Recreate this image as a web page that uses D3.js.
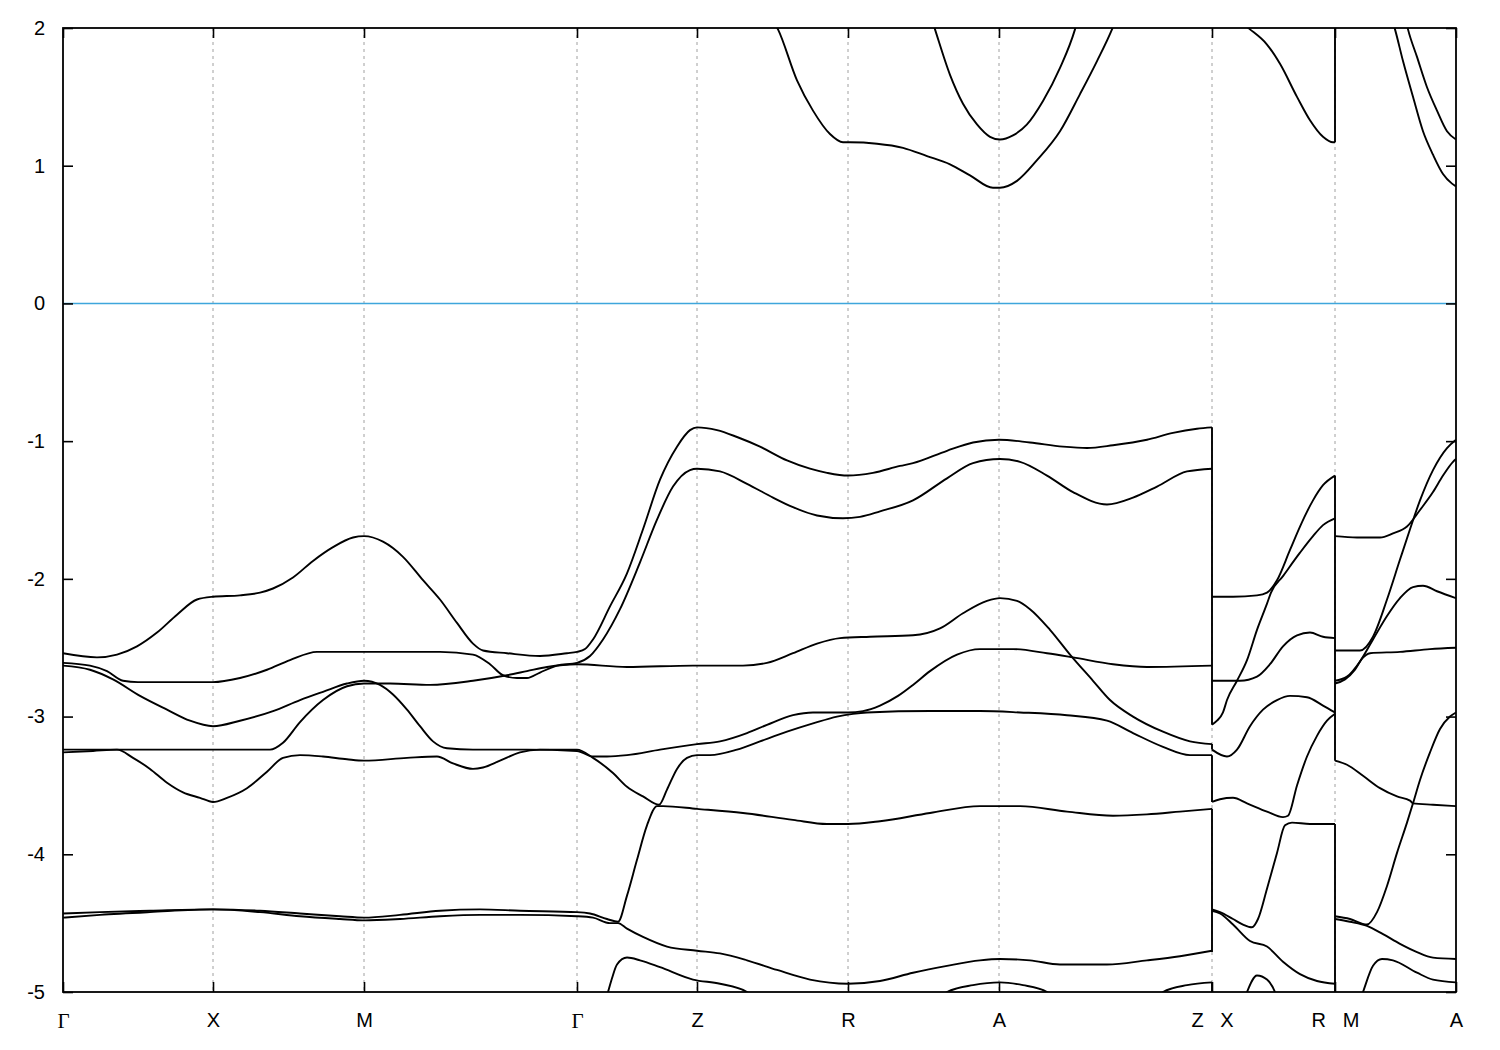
<!DOCTYPE html>
<html><head><meta charset="utf-8">
<script src="https://cdn.jsdelivr.net/npm/d3@7"></script>
<style>body{margin:0;background:#fff}</style>
</head><body><svg id="c" width="1500" height="1050"></svg>
<script>
// k-path positions (path distance units) and labels
const kTicks=[0,150,301,514,634,785,936,1149,1272,1393];
const kLabels=["Γ","X","M","Γ","Z","R","A","Z\u00a0\u00a0\u00a0X","R\u00a0\u00a0\u00a0M","A"];
const eTicks=[2,1,0,-1,-2,-3,-4,-5];
const eRange=[-5,2];
const fermiLevel=0;

// Γ-X-M-Γ-Z-R-A-Z bands  [k, E(eV)]
const band1=[[0,-2.54],[34,-2.57],[54,-2.55],[74,-2.49],[94,-2.39],[114,-2.26],[134,-2.15],[150,-2.13],[177,-2.12],[197,-2.10],[210,-2.07],[230,-1.99],[250,-1.87],[270,-1.77],[290,-1.70],[301,-1.69],[320,-1.73],[340,-1.84],[360,-2.01],[377,-2.15],[394,-2.32],[410,-2.47],[420,-2.52],[444,-2.54],[477,-2.56],[504,-2.54],[514,-2.53],[522,-2.51],[530,-2.44],[547,-2.20],[564,-1.96],[580,-1.64],[597,-1.28],[614,-1.04],[627,-0.92],[634,-0.90],[654,-0.92],[674,-0.97],[697,-1.04],[724,-1.14],[747,-1.20],[764,-1.23],[785,-1.25],[810,-1.23],[837,-1.18],[850,-1.16],[884,-1.07],[910,-1.01],[936,-0.99],[967,-1.01],[1000,-1.04],[1024,-1.05],[1050,-1.03],[1084,-0.99],[1110,-0.94],[1134,-0.91],[1149,-0.90]];
const band2=[[0,-2.61],[27,-2.63],[44,-2.67],[60,-2.74],[75,-2.75],[150,-2.75],[177,-2.72],[204,-2.66],[227,-2.59],[254,-2.53],[301,-2.53],[344,-2.53],[377,-2.53],[410,-2.55],[427,-2.62],[440,-2.70],[454,-2.72],[464,-2.72],[477,-2.68],[494,-2.63],[514,-2.61],[527,-2.56],[540,-2.44],[557,-2.22],[577,-1.88],[594,-1.57],[610,-1.33],[627,-1.21],[634,-1.20],[657,-1.22],[684,-1.31],[710,-1.41],[730,-1.48],[754,-1.54],[780,-1.56],[797,-1.55],[817,-1.51],[850,-1.43],[884,-1.27],[910,-1.16],[937,-1.13],[957,-1.15],[984,-1.25],[1010,-1.37],[1044,-1.46],[1070,-1.41],[1094,-1.33],[1124,-1.22],[1149,-1.20]];
const band3=[[0,-2.63],[27,-2.66],[50,-2.73],[77,-2.85],[104,-2.95],[127,-3.03],[150,-3.07],[177,-3.03],[210,-2.96],[237,-2.88],[260,-2.82],[284,-2.76],[301,-2.74],[317,-2.77],[330,-2.84],[344,-2.95],[357,-3.07],[370,-3.18],[384,-3.23],[410,-3.24],[464,-3.24],[514,-3.25],[530,-3.29],[544,-3.29],[564,-3.28],[597,-3.24],[634,-3.20],[657,-3.18],[684,-3.12],[704,-3.06],[730,-2.99],[750,-2.97],[785,-2.97],[800,-2.96],[817,-2.92],[835,-2.85],[850,-2.77],[867,-2.67],[894,-2.55],[917,-2.51],[950,-2.51],[984,-2.54],[1010,-2.57],[1050,-2.62],[1084,-2.64],[1149,-2.63]];
const band4=[[0,-3.24],[50,-3.24],[150,-3.24],[207,-3.24],[220,-3.19],[237,-3.04],[260,-2.88],[284,-2.78],[301,-2.76],[327,-2.76],[367,-2.77],[410,-2.74],[444,-2.70],[464,-2.67],[484,-2.64],[514,-2.62],[564,-2.64],[630,-2.63],[680,-2.63],[704,-2.61],[730,-2.54],[754,-2.47],[777,-2.43],[807,-2.42],[850,-2.41],[877,-2.36],[900,-2.25],[924,-2.16],[937,-2.14],[954,-2.16],[967,-2.22],[987,-2.37],[1007,-2.55],[1030,-2.74],[1047,-2.88],[1070,-3.00],[1100,-3.11],[1127,-3.18],[1149,-3.20]];
const band5=[[0,-3.26],[30,-3.25],[54,-3.24],[70,-3.30],[87,-3.38],[104,-3.48],[120,-3.55],[137,-3.59],[150,-3.62],[164,-3.59],[184,-3.52],[204,-3.40],[220,-3.30],[237,-3.28],[260,-3.29],[284,-3.31],[301,-3.32],[344,-3.30],[374,-3.29],[390,-3.34],[410,-3.38],[420,-3.37],[437,-3.32],[457,-3.26],[477,-3.24],[514,-3.24],[530,-3.30],[550,-3.41],[564,-3.51],[580,-3.58],[596,-3.64],[604,-3.53],[614,-3.38],[624,-3.30],[634,-3.28],[647,-3.28],[674,-3.24],[697,-3.18],[724,-3.11],[750,-3.05],[774,-3.00],[790,-2.98],[804,-2.97],[867,-2.96],[917,-2.96],[957,-2.97],[1004,-2.99],[1044,-3.03],[1070,-3.12],[1100,-3.22],[1127,-3.28],[1149,-3.28]];
const band6=[[0,-4.43],[37,-4.42],[87,-4.41],[150,-4.40],[197,-4.41],[237,-4.43],[277,-4.45],[301,-4.46],[337,-4.44],[377,-4.41],[417,-4.40],[457,-4.41],[514,-4.42],[527,-4.43],[544,-4.47],[555,-4.49],[564,-4.30],[574,-4.04],[584,-3.79],[594,-3.65],[600,-3.65],[634,-3.67],[680,-3.70],[730,-3.75],[764,-3.78],[785,-3.78],[817,-3.76],[867,-3.70],[917,-3.65],[957,-3.65],[1004,-3.69],[1050,-3.72],[1084,-3.71],[1117,-3.69],[1149,-3.67]];
const band7=[[0,-4.46],[37,-4.44],[87,-4.42],[150,-4.40],[197,-4.42],[237,-4.45],[277,-4.47],[301,-4.48],[337,-4.47],[377,-4.45],[417,-4.44],[457,-4.44],[514,-4.45],[530,-4.46],[547,-4.50],[555,-4.50],[564,-4.54],[580,-4.60],[604,-4.67],[634,-4.70],[657,-4.72],[684,-4.77],[714,-4.84],[747,-4.91],[785,-4.94],[817,-4.92],[850,-4.86],[884,-4.81],[917,-4.77],[937,-4.76],[967,-4.77],[997,-4.80],[1044,-4.80],[1084,-4.77],[1117,-4.74],[1149,-4.70]];
const band8a=[[540,-5.1],[545,-5.0],[549,-4.90],[554,-4.80],[564,-4.75],[577,-4.77],[597,-4.82],[630,-4.91],[657,-4.94],[684,-5.0],[695,-5.06]];
const band8b=[[877,-5.06],[884,-5.0],[910,-4.95],[937,-4.93],[960,-4.95],[984,-5.0],[990,-5.06]];
const band8c=[[1094,-5.06],[1100,-5.0],[1124,-4.95],[1149,-4.93]];
const cond1=[[700,2.15],[715,1.99],[734,1.62],[750,1.40],[767,1.23],[780,1.17],[787,1.17],[814,1.16],[840,1.13],[864,1.07],[887,1.01],[907,0.93],[930,0.84],[937,0.84],[954,0.89],[974,1.04],[997,1.25],[1017,1.52],[1034,1.76],[1049,1.99],[1055,2.1]];
const cond2=[[865,2.15],[872,1.99],[887,1.66],[900,1.45],[914,1.30],[927,1.21],[937,1.19],[950,1.22],[964,1.30],[980,1.47],[997,1.71],[1012,1.99],[1018,2.15]];

// X-R bands
const xr1=[[1149,-2.13],[1170,-2.13],[1194,-2.12],[1204,-2.10],[1214,-2.01],[1227,-1.79],[1237,-1.62],[1250,-1.43],[1260,-1.32],[1272,-1.25]];
const xr2=[[1149,-3.06],[1154,-3.03],[1160,-2.97],[1164,-2.88],[1174,-2.74],[1184,-2.59],[1194,-2.37],[1204,-2.18],[1208,-2.10],[1220,-1.98],[1237,-1.81],[1250,-1.69],[1260,-1.61],[1272,-1.56]];
const xr3=[[1149,-2.74],[1177,-2.74],[1194,-2.71],[1207,-2.62],[1220,-2.49],[1234,-2.41],[1247,-2.39],[1260,-2.42],[1272,-2.43]];
const xr4=[[1149,-3.24],[1164,-3.29],[1174,-3.24],[1187,-3.07],[1200,-2.95],[1214,-2.88],[1227,-2.85],[1244,-2.86],[1260,-2.92],[1272,-2.97]];
const xr5=[[1149,-3.62],[1157,-3.60],[1170,-3.59],[1184,-3.63],[1204,-3.69],[1220,-3.73],[1225,-3.72],[1234,-3.50],[1244,-3.29],[1254,-3.14],[1264,-3.03],[1272,-2.98]];
const xr6=[[1149,-4.40],[1157,-4.42],[1170,-4.47],[1180,-4.51],[1189,-4.53],[1195,-4.47],[1204,-4.25],[1214,-3.99],[1222,-3.79],[1229,-3.77],[1247,-3.78],[1272,-3.78]];
const xr7=[[1149,-4.41],[1157,-4.43],[1170,-4.51],[1187,-4.63],[1204,-4.67],[1220,-4.78],[1237,-4.87],[1254,-4.92],[1272,-4.94]];
const xr8=[[1181,-5.06],[1184,-5.0],[1194,-4.88],[1204,-4.91],[1212,-5.0],[1215,-5.06]];
const xrCond=[[1149,2.12],[1172,2.07],[1187,1.99],[1204,1.88],[1217,1.74],[1234,1.50],[1247,1.33],[1260,1.21],[1270,1.17],[1272,1.17]];

// M-A bands
const ma1=[[1272,-1.69],[1294,-1.70],[1317,-1.70],[1330,-1.67],[1344,-1.62],[1357,-1.50],[1370,-1.37],[1380,-1.25],[1390,-1.15],[1393,-1.13]];
const ma2=[[1272,-2.52],[1297,-2.52],[1310,-2.42],[1324,-2.15],[1337,-1.86],[1347,-1.64],[1357,-1.43],[1370,-1.21],[1384,-1.05],[1393,-0.99]];
const ma3=[[1272,-2.74],[1284,-2.71],[1297,-2.60],[1310,-2.44],[1324,-2.27],[1337,-2.14],[1350,-2.06],[1360,-2.05],[1374,-2.09],[1393,-2.14]];
const ma4=[[1272,-2.76],[1282,-2.73],[1292,-2.66],[1299,-2.58],[1307,-2.54],[1337,-2.53],[1367,-2.51],[1393,-2.50]];
const ma5=[[1272,-3.32],[1284,-3.35],[1300,-3.43],[1317,-3.52],[1334,-3.58],[1347,-3.61],[1350,-3.63],[1370,-3.64],[1393,-3.65]];
const ma6=[[1272,-4.45],[1287,-4.47],[1304,-4.51],[1314,-4.42],[1324,-4.23],[1334,-3.99],[1344,-3.77],[1350,-3.63],[1357,-3.46],[1367,-3.26],[1377,-3.09],[1387,-3.00],[1393,-2.97]];
const ma7=[[1272,-4.47],[1287,-4.49],[1304,-4.52],[1320,-4.58],[1337,-4.65],[1354,-4.71],[1370,-4.75],[1393,-4.76]];
const ma8=[[1297,-5.06],[1300,-5.0],[1310,-4.81],[1319,-4.76],[1330,-4.77],[1354,-4.86],[1370,-4.91],[1393,-4.93]];
const maCond1=[[1325,2.15],[1332,1.99],[1340,1.76],[1350,1.50],[1360,1.25],[1370,1.08],[1380,0.94],[1389,0.87],[1393,0.85]];
const maCond2=[[1340,2.15],[1345,1.99],[1354,1.79],[1364,1.57],[1374,1.40],[1384,1.25],[1393,1.19]];

// vertical band jumps at the path discontinuities Z|X and R|M: [k, E1, E2]
const jumps=[[1149,-0.90,-3.06],[1149,-3.20,-3.24],[1149,-3.28,-3.62],[1149,-3.67,-4.71],[1149,-4.93,-5.1],
             [1272,1.17,2.2],[1272,-1.25,-3.32],[1272,-3.78,-5.1]];

const bands=[band1,band2,band3,band4,band5,band6,band7,band8a,band8b,band8c,cond1,cond2,
  xr1,xr2,xr3,xr4,xr5,xr6,xr7,xr8,xrCond,ma1,ma2,ma3,ma4,ma5,ma6,ma7,ma8,maCond1,maCond2];

const W=1500,H=1050, m={l:63,r:44,t:28,b:58};
const svg=d3.select("#c");
const x=d3.scaleLinear().domain([kTicks[0],kTicks[kTicks.length-1]]).range([m.l,W-m.r]);
const y=d3.scaleLinear().domain(eRange).range([H-m.b,m.t]);

svg.append("defs").append("clipPath").attr("id","clip").append("rect")
  .attr("x",x.range()[0]).attr("y",m.t).attr("width",x.range()[1]-x.range()[0]).attr("height",H-m.b-m.t);

// dashed grid at high-symmetry points
svg.append("g").selectAll("line").data(kTicks.slice(1,-1)).join("line")
  .attr("x1",d=>x(d)).attr("x2",d=>x(d)).attr("y1",m.t).attr("y2",H-m.b)
  .attr("stroke","#a0a0a0").attr("stroke-width",1).attr("stroke-dasharray","3,4");

// Fermi level
svg.append("line").attr("x1",x.range()[0]).attr("x2",x.range()[1])
  .attr("y1",y(fermiLevel)).attr("y2",y(fermiLevel))
  .attr("stroke","#3fa6dc").attr("stroke-width",1.6);

const g=svg.append("g").attr("clip-path","url(#clip)");
const line=d3.line().x(d=>x(d[0])).y(d=>y(d[1])).curve(d3.curveMonotoneX);
g.selectAll("path.band").data(bands).join("path").attr("class","band")
  .attr("d",line).attr("fill","none").attr("stroke","#000").attr("stroke-width",1.9)
  .attr("stroke-linejoin","round");
g.selectAll("line.jump").data(jumps).join("line").attr("class","jump")
  .attr("x1",d=>x(d[0])).attr("x2",d=>x(d[0])).attr("y1",d=>y(d[1])).attr("y2",d=>y(d[2]))
  .attr("stroke","#000").attr("stroke-width",1.9);

// axes
const font="'Liberation Sans', Arial, sans-serif";
const yl=svg.append("g").attr("transform",`translate(${x.range()[0]},0)`)
  .call(d3.axisLeft(y).tickValues(eTicks).tickFormat(d=>String(d)).tickSize(-10).tickPadding(18));
const yr=svg.append("g").attr("transform",`translate(${x.range()[1]},0)`)
  .call(d3.axisRight(y).tickValues(eTicks).tickSize(-10).tickFormat(""));
const xb=svg.append("g").attr("transform",`translate(0,${H-m.b})`)
  .call(d3.axisBottom(x).tickValues(kTicks).tickFormat((d,i)=>kLabels[i]).tickSize(-10).tickPadding(21));
const xt=svg.append("g").attr("transform",`translate(0,${m.t})`)
  .call(d3.axisTop(x).tickValues(kTicks).tickSize(-10).tickFormat(""));
[yl,yr,xb,xt].forEach(a=>{
  a.select(".domain").remove();
  a.selectAll(".tick line").attr("stroke","#000").attr("stroke-width",1.6);
  a.selectAll("text").attr("font-family",font).attr("font-size",20).attr("fill","#000");
});
xb.selectAll(".tick text").each(function(d,i){ if(kLabels[i]==="Γ") d3.select(this).attr("font-family","'Liberation Serif', 'DejaVu Serif', serif").attr("font-size",21); });

// frame
svg.append("rect").attr("x",x.range()[0]).attr("y",m.t)
  .attr("width",x.range()[1]-x.range()[0]).attr("height",H-m.b-m.t)
  .attr("fill","none").attr("stroke","#000").attr("stroke-width",1.8);
</script></body></html>
